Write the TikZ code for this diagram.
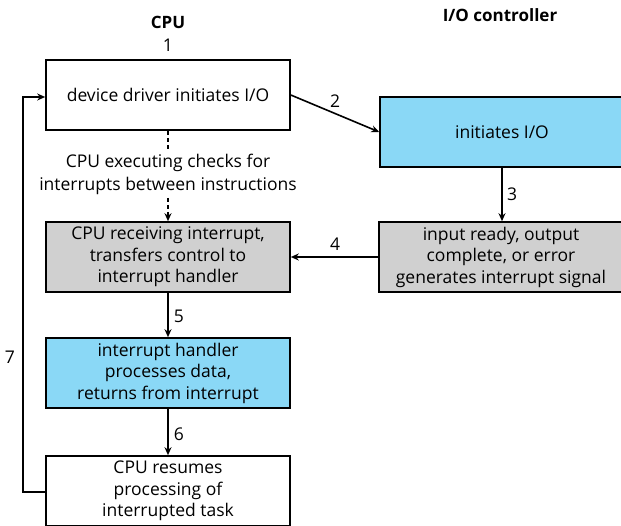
\documentclass[tikz,border=0pt]{standalone}
\usepackage{fontspec}
\setmainfont{Open Sans}
\usetikzlibrary{arrows.meta}
\definecolor{hbblue}{RGB}{138,216,246}
\definecolor{hbgrey}{RGB}{208,208,208}
\tikzset{
  box/.style={draw, line width=1.6pt, minimum width=244pt, minimum height=70pt,
    inner sep=0pt, align=center, font=\fontsize{17.5}{21.5}\selectfont},
  flow/.style={line width=1.6pt, -{Stealth[length=8pt,width=7pt]}},
  num/.style={font=\fontsize{17.5}{20}\selectfont, inner sep=0pt},
  head/.style={font=\fontsize{17}{20}\selectfont\bfseries, inner sep=0pt}
}
\begin{document}
\begin{tikzpicture}[x=1pt,y=-1pt]
\useasboundingbox (0,0) rectangle (621,526);
% column headings
\node[head] (hcpu) at (168,22) {CPU};
\node[head] (hio) at (500,15) {I/O controller};
\node[num] (n1) at (168,45) {1};
% CPU side
\node[box] (drv) at (168,95) {device driver initiates I/O};
\node[box, fill=hbgrey] (recv) at (168,257) {CPU receiving interrupt,\\transfers control to\\interrupt handler};
\node[box, fill=hbblue] (hand) at (168,373) {interrupt handler\\processes data,\\returns from interrupt};
\node[box] (resume) at (168,491) {CPU resumes\\processing of\\interrupted task};
% controller side
\node[box, fill=hbblue] (init) at (502,132) {initiates I/O};
\node[box, fill=hbgrey] (sig) at (501,257) {input ready, output\\complete, or error\\generates interrupt signal};
% polling text between the first two CPU steps
\node[align=center, inner sep=0pt, font=\fontsize{17.5}{23}\selectfont] (poll) at (168,174)
  {CPU executing checks for\\interrupts between instructions};
\draw[line width=1.6pt, dash pattern=on 4pt off 3pt] (drv.south) -- ++(0,20);
\draw[flow, dash pattern=on 4pt off 3pt] (168,198) -- (recv.north);
% numbered transitions
\draw[flow] (drv.east |- 0,95) -- (init.west);
\node[num] (n2) at (335,101) {2};
\draw[flow] (init.south) -- (init.south |- recv.north);
\node[num] (n3) at (512,194) {3};
\draw[flow] (sig.west) -- (recv.east);
\node[num] (n4) at (335,244) {4};
\draw[flow] (recv.south) -- (hand.north);
\node[num] (n5) at (179,316) {5};
\draw[flow] (hand.south) -- (resume.north);
\node[num] (n6) at (179,434) {6};
% return to the driver
\coordinate (lp) at (23,492);
\draw[flow] (resume.west |- lp) -- (lp) -- (lp |- 0,97) -- (drv.west |- 0,97);
\node[num] (n7) at (10,357) {7};
\end{tikzpicture}
\end{document}
